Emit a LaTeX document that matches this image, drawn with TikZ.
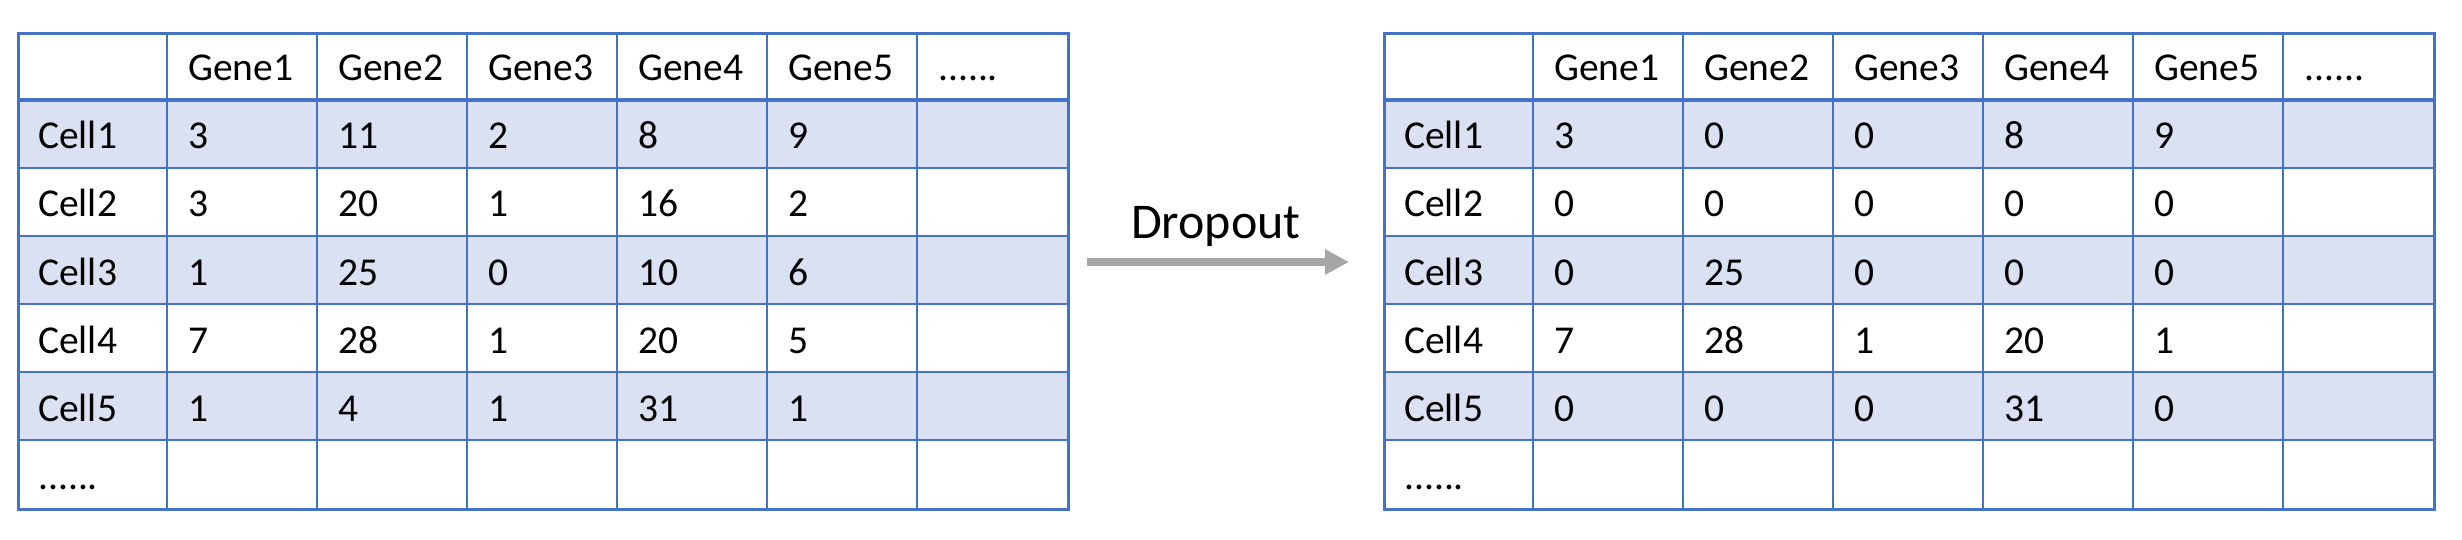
\documentclass[tikz,border=0pt]{standalone}
\usepackage{fontspec}
\setmainfont{Carlito}
\usetikzlibrary{arrows.meta}
\definecolor{tblue}{HTML}{4472C4}
\definecolor{tfill}{HTML}{D9E1F2}
\definecolor{agray}{HTML}{A6A6A6}
\newcommand\mysixdots{......}
\tikzset{
  celltext/.style={anchor=base west,inner sep=0pt,font=\fontsize{39.5}{40}\selectfont},
  gridline/.style={draw=tblue,line width=2pt},
  headline/.style={draw=tblue,line width=4pt},
  outline/.style={draw=tblue,line width=2.7pt,minimum width=1050pt,minimum height=476pt,inner sep=0pt,anchor=north west},
  rowfill/.style={fill=tfill},
  flowarrow/.style={draw=agray,line width=8pt,-{Triangle[length=24pt,width=24pt]}},
  labeltext/.style={anchor=base west,inner sep=0pt,font=\fontsize{50}{52}\selectfont}
}
\begin{document}
\begin{tikzpicture}[x=1pt,y=-1pt]
\useasboundingbox[fill=white] (0,0) rectangle (2462,540);
\foreach \t/\ox in {L/17,R/1383}{
  \foreach \k in {1,3,5}{
    \fill[rowfill] (\ox,{32+68*\k}) rectangle ({\ox+1050},{32+68*(\k+1)});
  }
  \foreach \k in {1,2,3,4,5,6}{
    \draw[gridline] ({\ox+150*\k},32) -- ({\ox+150*\k},508);
  }
  \foreach \k in {2,3,4,5,6}{
    \draw[gridline] (\ox,{32+68*\k}) -- ({\ox+1050},{32+68*\k});
  }
  \draw[headline] (\ox,100) -- ({\ox+1050},100);
  \foreach \h [count=\c] in {Gene1,Gene2,Gene3,Gene4,Gene5,\mysixdots}{
    \node[celltext] (\t-0-\c) at ({\ox+21+150*\c},81) {\h};
  }
  \node[celltext] (\t-6-0) at ({\ox+21},489) {\mysixdots};
  \node[outline] (\t) at (\ox,32) {};
}
% left data
\foreach \r/\a/\b/\c/\d/\e [count=\i] in {Cell1/3/11/2/8/9,Cell2/3/20/1/16/2,Cell3/1/25/0/10/6,Cell4/7/28/1/20/5,Cell5/1/4/1/31/1}{
  \node[celltext] (L-\i-0) at (38,{81+68*\i}) {\r};
  \node[celltext] (L-\i-1) at (188,{81+68*\i}) {\a};
  \node[celltext] (L-\i-2) at (338,{81+68*\i}) {\b};
  \node[celltext] (L-\i-3) at (488,{81+68*\i}) {\c};
  \node[celltext] (L-\i-4) at (638,{81+68*\i}) {\d};
  \node[celltext] (L-\i-5) at (788,{81+68*\i}) {\e};
}
% right data
\foreach \r/\a/\b/\c/\d/\e [count=\i] in {Cell1/3/0/0/8/9,Cell2/0/0/0/0/0,Cell3/0/25/0/0/0,Cell4/7/28/1/20/1,Cell5/0/0/0/31/0}{
  \node[celltext] (R-\i-0) at (1404,{81+68*\i}) {\r};
  \node[celltext] (R-\i-1) at (1554,{81+68*\i}) {\a};
  \node[celltext] (R-\i-2) at (1704,{81+68*\i}) {\b};
  \node[celltext] (R-\i-3) at (1854,{81+68*\i}) {\c};
  \node[celltext] (R-\i-4) at (2004,{81+68*\i}) {\d};
  \node[celltext] (R-\i-5) at (2154,{81+68*\i}) {\e};
}
% arrow
\coordinate (arrowstart) at (1087,262);
\coordinate (arrowend) at (1349,262);
\draw[flowarrow] (arrowstart) -- (arrowend);
\node[labeltext] (dropout) at (1131,238) {Dropout};
\end{tikzpicture}
\end{document}
